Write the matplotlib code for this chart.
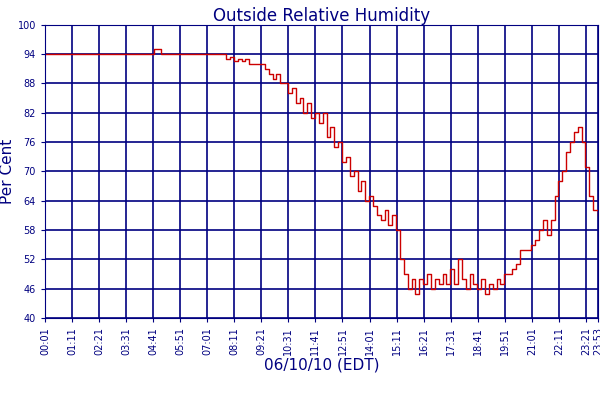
import matplotlib
matplotlib.use('Agg')
import matplotlib.pyplot as plt

navy = '#000080'

# time in minutes after midnight, relative humidity in %
times = [1, 280, 284, 300, 460, 470, 480, 490, 500, 510, 520, 530, 545, 560,
         570, 580, 590, 600, 610, 620, 630, 640, 650, 660, 670, 680, 690, 700,
         710, 720, 730, 740, 750, 760, 770, 780, 790, 800, 810, 820, 830, 840,
         850, 860, 870, 880, 890, 900, 910, 920, 930, 940, 950, 960, 970, 980,
         990, 1000, 1010, 1020, 1030, 1040, 1050, 1060, 1070, 1080, 1090, 1100,
         1110, 1120, 1130, 1140, 1150, 1160, 1170, 1180, 1190, 1200, 1210, 1220,
         1230, 1240, 1250, 1260, 1270, 1280, 1290, 1300, 1310, 1320, 1330, 1340,
         1350, 1360, 1370, 1380, 1390, 1400, 1410, 1420, 1432]
humidity = [94, 94, 95, 94, 94, 93, 93.5, 92.5, 93, 92.5, 93, 92, 92, 92,
            91, 90, 89, 90, 88, 88, 86, 87, 84, 85, 82, 84, 81, 82,
            80, 82, 77, 79, 75, 76, 72, 73, 69, 70, 66, 68, 64, 65,
            63, 61, 60, 62, 59, 61, 58, 52, 49, 46, 48, 45, 48, 47,
            49, 46, 48, 47, 49, 47, 50, 47, 52, 48, 46, 49,
            47, 46, 48, 45, 47, 46, 48, 47, 49, 49, 50, 51,
            54, 54, 54, 55, 56, 58, 60, 57, 60, 65, 68, 70,
            74, 76, 78, 79, 76, 71, 65, 62, 61]

tick_labels = ['00:01', '01:11', '02:21', '03:31', '04:41', '05:51', '07:01',
               '08:11', '09:21', '10:31', '11:41', '12:51', '14:01', '15:11',
               '16:21', '17:31', '18:41', '19:51', '21:01', '22:11', '23:21', '23:53']
tick_pos = [1 + 70 * i for i in range(21)] + [1433]
yticks = [40, 46, 52, 58, 64, 70, 76, 82, 88, 94, 100]

fig, ax = plt.subplots(figsize=(6, 4), dpi=100)
fig.subplots_adjust(left=0.075, right=0.997, top=0.938, bottom=0.205)

ax.plot(times, humidity, color='#cc0000', lw=1, drawstyle='steps-post',
        label='Relative Humidity', zorder=2)

ax.set_xlim(1, 1433)
ax.set_ylim(40, 100)
ax.set_xticks(tick_pos)
ax.set_xticklabels(tick_labels, rotation=90, fontsize=7, color=navy)
ax.set_yticks(yticks)
ax.set_yticklabels(yticks, fontsize=7, color=navy)
ax.tick_params(length=3, color=navy)
ax.grid(True, color=navy, lw=1.2, zorder=3)
for s in ax.spines.values():
    s.set_color(navy)

ax.set_title('Outside Relative Humidity', color=navy, fontsize=12, pad=3)
ax.set_ylabel('Per Cent', color=navy, fontsize=11, labelpad=2)
ax.set_xlabel('06/10/10 (EDT)', color=navy, fontsize=11, labelpad=2)
ax.legend(loc='upper center', bbox_to_anchor=(0.5, -0.27), frameon=False,
          fontsize=8, handlelength=1.5, labelcolor=navy)

fig.savefig('out.png', dpi=100)
